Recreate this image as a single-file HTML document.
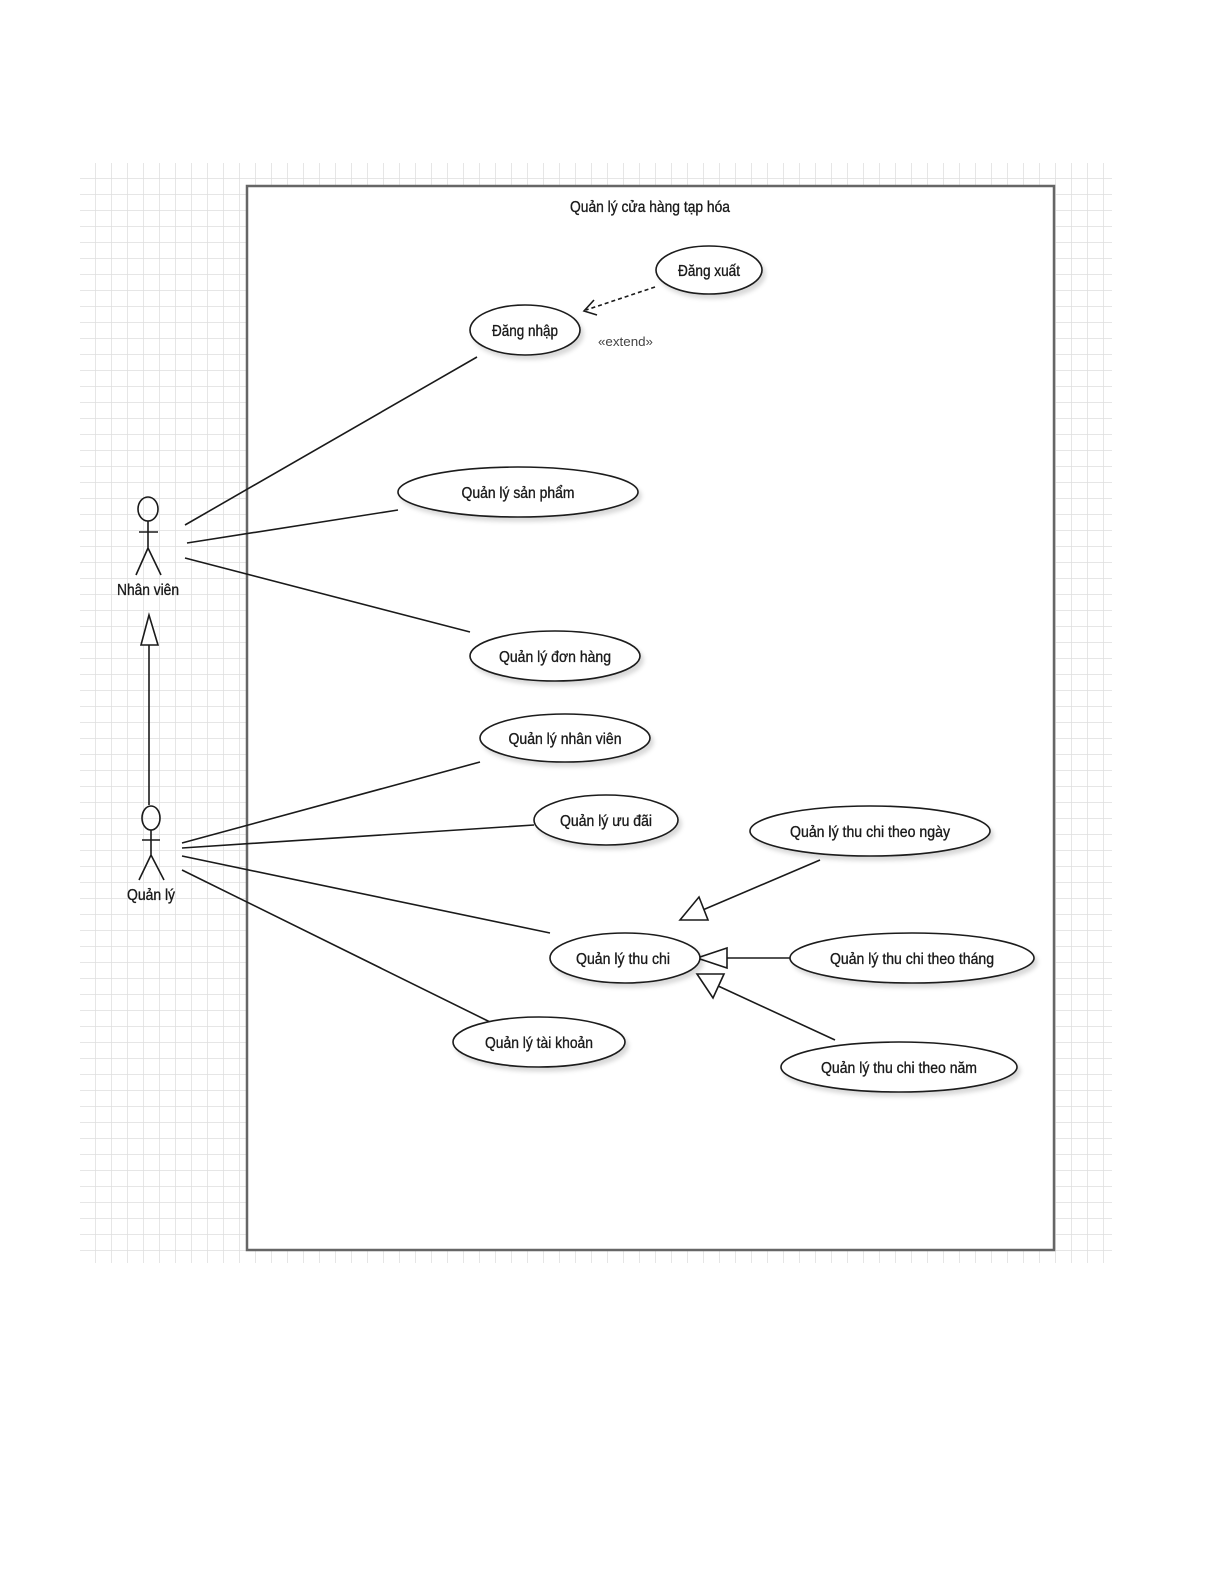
<!DOCTYPE html>
<html><head><meta charset="utf-8"><style>
html,body{margin:0;padding:0;background:#fff;}
svg{display:block;}
text{font-family:"Liberation Sans",sans-serif;font-size:16px;fill:#1a1a1a;stroke:#1a1a1a;stroke-width:0.35px;}
</style></head><body>
<svg width="1225" height="1585" viewBox="0 0 1225 1585" xmlns="http://www.w3.org/2000/svg">
<defs>
<pattern id="g" x="80" y="163" width="16" height="16" patternUnits="userSpaceOnUse">
<path d="M16 0V16M0 16H16" fill="none" stroke="#dedede" stroke-width="1.5"/>
</pattern>
<filter id="sh" x="-20%" y="-30%" width="140%" height="170%"><feDropShadow dx="3" dy="4" stdDeviation="2" flood-color="#000" flood-opacity="0.15"/></filter>
</defs>
<rect x="80" y="163" width="1032" height="1100" fill="url(#g)"/>
<rect x="247" y="186" width="807" height="1064" fill="#fff" stroke="#666" stroke-width="2.5"/>
<text x="650" y="212" text-anchor="middle" textLength="160" lengthAdjust="spacingAndGlyphs">Quản lý cửa hàng tạp hóa</text>

<g stroke="#1a1a1a" stroke-width="1.6" fill="none">
<ellipse cx="148" cy="509" rx="10" ry="12"/>
<path d="M148 521V548M139 532H158M148 548L136 575M148 548L161 575"/>
<ellipse cx="151" cy="818" rx="9" ry="12"/>
<path d="M151 830V855M142 840H160M151 855L139 880M151 855L164 880"/>
<path d="M149 805V645"/>
<path d="M149 615L141 645H158Z" fill="#fff"/>
<path d="M185 525L477 357M187 543L398 510M185 558L470 632"/>
<path d="M182 843L480 762M182 848L534 825M182 856L550 933M182 870L490 1022"/>
<path d="M820 860L698 912"/>
<path d="M680 920L699 897L708 920Z" fill="#fff"/>
<path d="M790 958H727"/>
<path d="M697 958L727 948V968Z" fill="#fff"/>
<path d="M835 1040L716 985"/>
<path d="M697 974L724 974L713 998Z" fill="#fff"/>
<path d="M655 287L586 310" stroke-dasharray="4,3"/>
<path d="M594 300L584 311L597 315"/>
</g>
<text x="598" y="346" textLength="55" lengthAdjust="spacingAndGlyphs" style="font-size:13px;fill:#444;stroke:none">«extend»</text>

<g fill="#fff" stroke="#1a1a1a" stroke-width="1.6" filter="url(#sh)">
<ellipse cx="709" cy="270" rx="53" ry="24"/>
<ellipse cx="525" cy="330" rx="55" ry="25"/>
<ellipse cx="518" cy="492" rx="120" ry="25"/>
<ellipse cx="555" cy="656" rx="85" ry="25"/>
<ellipse cx="565" cy="738" rx="85" ry="24"/>
<ellipse cx="606" cy="820" rx="72" ry="25"/>
<ellipse cx="870" cy="831" rx="120" ry="25"/>
<ellipse cx="625" cy="958" rx="75" ry="25"/>
<ellipse cx="912" cy="958" rx="122" ry="25"/>
<ellipse cx="539" cy="1042" rx="86" ry="25"/>
<ellipse cx="899" cy="1067" rx="118" ry="25"/>
</g>
<g text-anchor="middle">
<text x="709" y="276" textLength="62" lengthAdjust="spacingAndGlyphs">Đăng xuất</text>
<text x="525" y="336" textLength="66" lengthAdjust="spacingAndGlyphs">Đăng nhập</text>
<text x="518" y="498" textLength="113" lengthAdjust="spacingAndGlyphs">Quản lý sản phẩm</text>
<text x="555" y="662" textLength="112" lengthAdjust="spacingAndGlyphs">Quản lý đơn hàng</text>
<text x="565" y="744" textLength="113" lengthAdjust="spacingAndGlyphs">Quản lý nhân viên</text>
<text x="606" y="826" textLength="92" lengthAdjust="spacingAndGlyphs">Quản lý ưu đãi</text>
<text x="870" y="837" textLength="160" lengthAdjust="spacingAndGlyphs">Quản lý thu chi theo ngày</text>
<text x="623" y="964" textLength="94" lengthAdjust="spacingAndGlyphs">Quản lý thu chi</text>
<text x="912" y="964" textLength="164" lengthAdjust="spacingAndGlyphs">Quản lý thu chi theo tháng</text>
<text x="539" y="1048" textLength="108" lengthAdjust="spacingAndGlyphs">Quản lý tài khoản</text>
<text x="899" y="1073" textLength="156" lengthAdjust="spacingAndGlyphs">Quản lý thu chi theo năm</text>
<text x="148" y="595" textLength="62" lengthAdjust="spacingAndGlyphs">Nhân viên</text>
<text x="151" y="900" textLength="48" lengthAdjust="spacingAndGlyphs">Quản lý</text>
</g>
</svg>
</body></html>
